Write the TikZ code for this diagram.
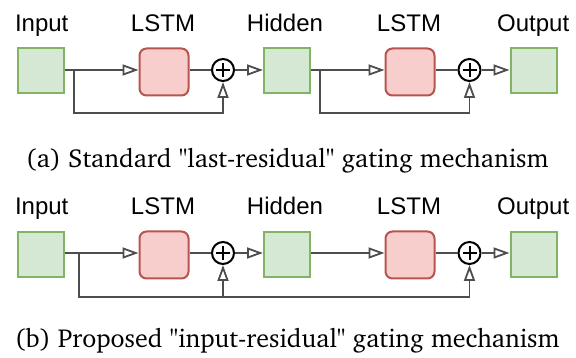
\documentclass[tikz,border=0pt]{standalone}
\usepackage[T1]{fontenc}
\usepackage{fontspec}
\newfontfamily\labfont{Liberation Sans}
\newcommand\capfont{\fontencoding{T1}\fontfamily{bch}\fontsize{26}{28}\selectfont}
\usetikzlibrary{arrows.meta}
\definecolor{gfill}{HTML}{D5E8D4}
\definecolor{gdraw}{HTML}{82B366}
\definecolor{rfill}{HTML}{F8CECC}
\definecolor{rdraw}{HTML}{B85450}
\definecolor{wire}{HTML}{4D4D4D}
\tikzset{
  gbox/.style={draw=gdraw,fill=gfill,line width=2pt,minimum width=46pt,minimum height=45pt,inner sep=0pt},
  rbox/.style={draw=rdraw,fill=rfill,line width=2pt,rounded corners=7pt,minimum width=49pt,minimum height=47pt,inner sep=0pt},
  plusnode/.style={draw=black,fill=white,circle,line width=2pt,minimum size=22pt,inner sep=0pt},
  lab/.style={font=\labfont\fontsize{24}{26}\selectfont,inner sep=0pt,anchor=base},
  captext/.style={font=\capfont,inner sep=0pt,anchor=base},
  wireline/.style={draw=wire,line width=1.8pt},
  arr/.style={wireline,-{Triangle[open,length=16pt,width=11pt,fill=white]}},
}
\begin{document}
\begin{tikzpicture}[x=1pt,y=-1pt]
\useasboundingbox (0,0) rectangle (576,358);
% ---------- row (a)
\node[gbox] (in1) at (40.7,71) {};
\node[rbox] (l1) at (164,72) {};
\node[plusnode] (p1) at (223,70) {};
\node[gbox] (h1) at (287,71) {};
\node[rbox] (l2) at (410,72) {};
\node[plusnode] (p2) at (469.5,70) {};
\node[gbox] (o1) at (533.5,71) {};
\coordinate (ba1) at (74,70);
\coordinate (ba2) at (320.3,70);
\draw[wireline] (in1.east|-p1) -- (ba1);
\draw[arr] (ba1) -- (l1.west|-p1);
\draw[wireline] (l1.east|-p1) -- (p1.west);
\draw[arr] (p1.east) -- (h1.west|-p1);
\draw[arr] (ba1) -- (74,113.3) -| (p1.south);
\draw[wireline] (h1.east|-p2) -- (ba2);
\draw[arr] (ba2) -- (l2.west|-p2);
\draw[wireline] (l2.east|-p2) -- (p2.west);
\draw[arr] (p2.east) -- (o1.west|-p2);
\draw[arr] (ba2) -- (320.3,113.3) -| (p2.south);
\foreach \p in {p1,p2}{
  \draw[line width=2pt] ([xshift=-7pt]\p.center) -- ([xshift=7pt]\p.center);
  \draw[line width=2pt] ([yshift=-7pt]\p.center) -- ([yshift=7pt]\p.center);
}
\node[lab] (tin1) at (41.7,31.5) {Input};
\node[lab] (tl1) at (163,31.5) {LSTM};
\node[lab] (th1) at (285,31.5) {Hidden};
\node[lab] (tl2) at (409,31.5) {LSTM};
\node[lab] (to1) at (533.2,31.5) {Output};
\node[captext] (capa) at (287.2,167.3) {(a) Standard "last-residual" gating mechanism};
% ---------- row (b)
\node[gbox] (in2) at (40.7,254.2) {};
\node[rbox] (l3) at (164,255) {};
\node[plusnode] (p3) at (223,253) {};
\node[gbox] (h2) at (287,254.2) {};
\node[rbox] (l4) at (410,255) {};
\node[plusnode] (p4) at (469.5,253) {};
\node[gbox] (o2) at (533.5,254.2) {};
\coordinate (bb1) at (78.7,253);
\coordinate (bb2) at (78.7,296.7);
\coordinate (bb3) at (223,296.7);
\draw[wireline] (in2.east|-p3) -- (bb1);
\draw[arr] (bb1) -- (l3.west|-p3);
\draw[wireline] (l3.east|-p3) -- (p3.west);
\draw[arr] (p3.east) -- (h2.west|-p3);
\draw[arr] (h2.east|-p4) -- (l4.west|-p4);
\draw[wireline] (l4.east|-p4) -- (p4.west);
\draw[arr] (p4.east) -- (o2.west|-p4);
\draw[wireline] (bb1) -- (bb2) -- (bb3);
\draw[arr] (bb3) -- (p3.south);
\draw[arr] (bb3) -| (p4.south);
\foreach \p in {p3,p4}{
  \draw[line width=2pt] ([xshift=-7pt]\p.center) -- ([xshift=7pt]\p.center);
  \draw[line width=2pt] ([yshift=-7pt]\p.center) -- ([yshift=7pt]\p.center);
}
\node[lab] (tin2) at (41.7,215) {Input};
\node[lab] (tl3) at (163,215) {LSTM};
\node[lab] (th2) at (285,215) {Hidden};
\node[lab] (tl4) at (409,215) {LSTM};
\node[lab] (to2) at (533.2,215) {Output};
\node[captext] (capb) at (287.2,348) {(b) Proposed "input-residual" gating mechanism};
\end{tikzpicture}
\end{document}
